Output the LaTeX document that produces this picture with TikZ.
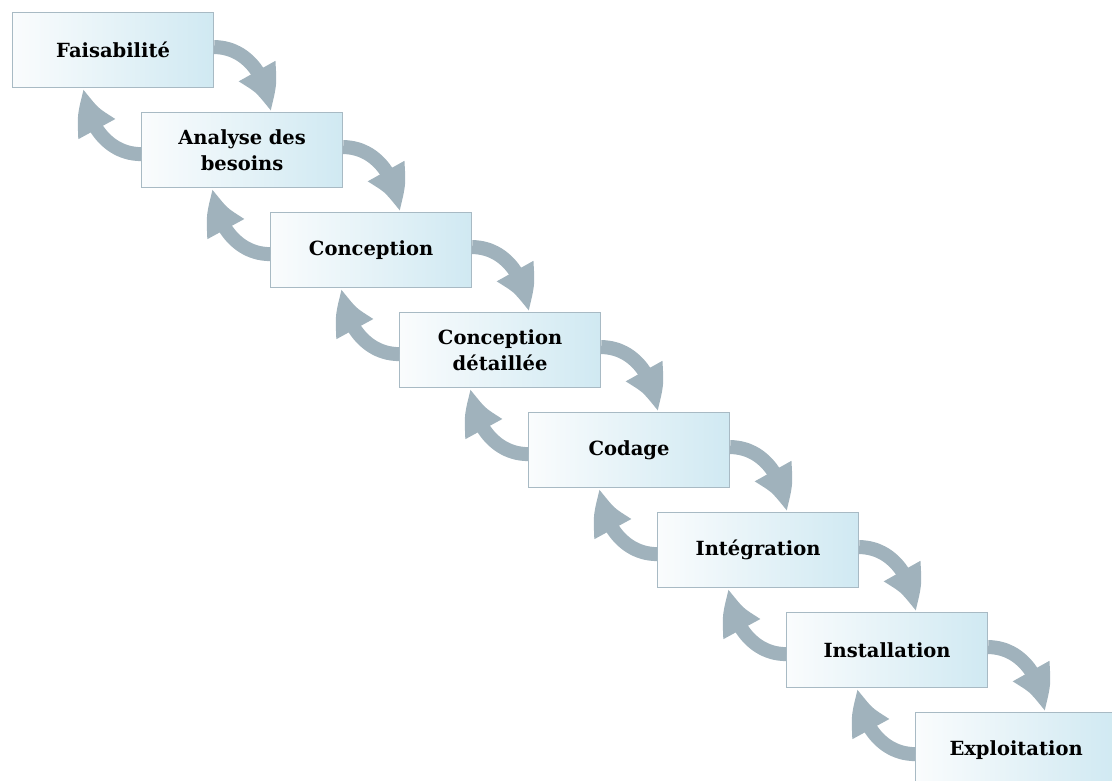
\documentclass[tikz,border=0pt]{standalone}
\usepackage{fontspec}
\setmainfont{DejaVu Serif}
\usetikzlibrary{positioning,arrows.meta,bending}

\definecolor{phaseleft}{RGB}{250,252,253}
\definecolor{phaseright}{RGB}{208,233,242}
\definecolor{phaseline}{RGB}{168,186,196}
\definecolor{loopcol}{RGB}{160,178,188}

\begin{document}
\begin{tikzpicture}[
    x=1pt, y=1pt,
    phase/.style={rectangle, draw=phaseline, line width=1.2pt, left color=phaseleft, right color=phaseright, minimum width=201pt, minimum height=75pt, text width=190pt, align=center, font=\bfseries\fontsize{19.5}{26}\selectfont},
    fwd/.style={draw=loopcol, line width=14pt, -{Triangle[width=38pt,length=44pt,bend]}},
    back/.style={fwd}
]
\clip (0,0) rectangle (1112,-780);

% Phases from top left to bottom right
\node[phase, anchor=north west] (fais) at (12,-12) {Faisabilité};
\node[phase, below right=23.8pt and -73.2pt of fais] (besoins) {Analyse des\\besoins};
\node[phase, below right=23.8pt and -73.2pt of besoins] (concep) {Conception};
\node[phase, below right=23.8pt and -73.2pt of concep] (detail) {Conception\\détaillée};
\node[phase, below right=23.8pt and -73.2pt of detail] (codage) {Codage};
\node[phase, below right=23.8pt and -73.2pt of codage] (integ) {Intégration};
\node[phase, below right=23.8pt and -73.2pt of integ] (install) {Installation};
\node[phase, below right=23.8pt and -73.2pt of install] (exploit) {Exploitation};

% Arrows to the next phase
\draw[fwd] ([yshift=3pt]fais.east) to[out=0,in=90] ([xshift=55pt]fais.east |- besoins.north);
\draw[fwd] ([yshift=3pt]besoins.east) to[out=0,in=90] ([xshift=55pt]besoins.east |- concep.north);
\draw[fwd] ([yshift=3pt]concep.east) to[out=0,in=90] ([xshift=55pt]concep.east |- detail.north);
\draw[fwd] ([yshift=3pt]detail.east) to[out=0,in=90] ([xshift=55pt]detail.east |- codage.north);
\draw[fwd] ([yshift=3pt]codage.east) to[out=0,in=90] ([xshift=55pt]codage.east |- integ.north);
\draw[fwd] ([yshift=3pt]integ.east) to[out=0,in=90] ([xshift=55pt]integ.east |- install.north);
\draw[fwd] ([yshift=3pt]install.east) to[out=0,in=90] ([xshift=55pt]install.east |- exploit.north);

% Arrows back to the previous phase
\draw[back] ([yshift=-4pt]besoins.west) to[out=180,in=-90] ([xshift=-56pt]besoins.west |- fais.south);
\draw[back] ([yshift=-4pt]concep.west) to[out=180,in=-90] ([xshift=-56pt]concep.west |- besoins.south);
\draw[back] ([yshift=-4pt]detail.west) to[out=180,in=-90] ([xshift=-56pt]detail.west |- concep.south);
\draw[back] ([yshift=-4pt]codage.west) to[out=180,in=-90] ([xshift=-56pt]codage.west |- detail.south);
\draw[back] ([yshift=-4pt]integ.west) to[out=180,in=-90] ([xshift=-56pt]integ.west |- codage.south);
\draw[back] ([yshift=-4pt]install.west) to[out=180,in=-90] ([xshift=-56pt]install.west |- integ.south);
\draw[back] ([yshift=-4pt]exploit.west) to[out=180,in=-90] ([xshift=-56pt]exploit.west |- install.south);

\end{tikzpicture}
\end{document}
